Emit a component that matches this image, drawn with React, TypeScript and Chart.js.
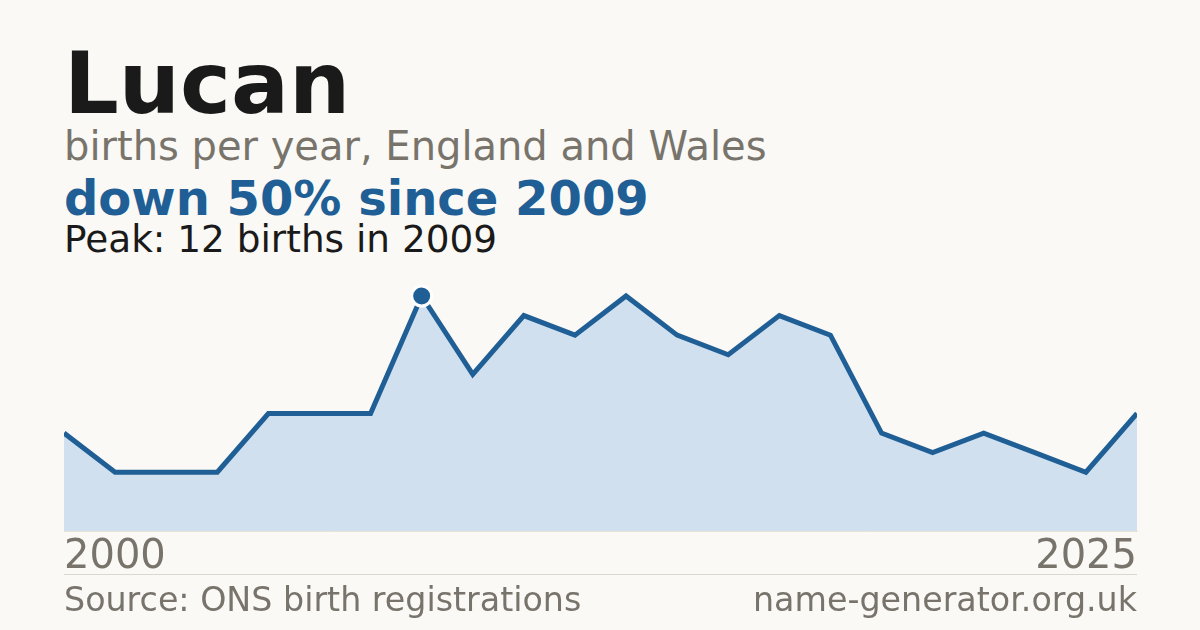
import React, { useEffect, useRef } from 'react';
import { Chart, registerables } from 'chart.js';

Chart.register(...registerables);

// births per year for the name
const years = ['2002', '2003', '2004', '2005', '2006', '2007', '2008', '2009', '2010', '2011', '2012',
  '2013', '2014', '2015', '2016', '2017', '2018', '2019', '2020', '2021', '2022', '2023'];
const births = [5, 3, 3, 3, 6, 6, 6, 12, 8, 11, 10, 12, 10, 9, 11, 10, 5, 4, 5, 4, 3, 6];
const axisLabels = ['2000', '2025'];
const peakIndex = 7;

const FONT = '"DejaVu Sans", Verdana, sans-serif';
const BLUE = '#1f5f96';
const GREY = '#78746c';

const text = (top: number, size: number, color: string, weight = 400): React.CSSProperties => ({
  position: 'absolute',
  left: 64,
  top,
  fontSize: size,
  lineHeight: 1,
  color,
  fontWeight: weight,
  whiteSpace: 'nowrap',
});

const App: React.FC = () => {
  const canvasRef = useRef<HTMLCanvasElement>(null);

  useEffect(() => {
    if (!canvasRef.current) return;
    const chart = new Chart(canvasRef.current, {
      type: 'line',
      data: {
        labels: years,
        datasets: [{
          data: births,
          borderColor: BLUE,
          borderWidth: 5,
          backgroundColor: '#d0e0ef',
          fill: 'origin',
          tension: 0,
          pointRadius: (c: any) => (c.dataIndex === peakIndex ? 10 : 0),
          pointHoverRadius: 0,
          pointBackgroundColor: BLUE,
          pointBorderColor: '#ffffff',
          pointBorderWidth: 3,
          clip: { left: 0, right: 0, top: 20, bottom: 0 } as any,
        }],
      },
      options: {
        animation: false,
        responsive: true,
        maintainAspectRatio: false,
        layout: { padding: { top: 12, left: 0, right: 0, bottom: 0 } },
        plugins: { legend: { display: false }, tooltip: { enabled: false } },
        scales: {
          x: {
            offset: false,
            grid: { display: false, drawTicks: false },
            border: { display: true, color: '#e8e2d8', width: 1 },
            ticks: {
              autoSkip: false,
              maxRotation: 0,
              align: 'inner',
              padding: 3,
              color: GREY,
              font: { family: FONT, size: 40 },
              callback: (_v: any, i: number) =>
                i === 0 ? axisLabels[0] : i === years.length - 1 ? axisLabels[1] : '',
            },
          },
          y: { display: false, min: 0, max: 12 },
        },
      },
    });
    return () => chart.destroy();
  }, []);

  return (
    <div style={{ position: 'fixed', left: 0, top: 0, width: 1200, height: 630, background: '#faf9f5', fontFamily: FONT, overflow: 'hidden' }}>
      <div style={text(40, 86, '#1a1a1a', 700)}>Lucan</div>
      <div style={text(126, 40, GREY)}>births per year, England and Wales</div>
      <div style={text(174, 48, BLUE, 700)}>down 50% since 2009</div>
      <div style={text(221, 37.4, '#1a1a1a')}>Peak: 12 births in 2009</div>
      <div style={{ position: 'absolute', left: 61, top: 284, width: 1079, height: 301 }}>
        <canvas ref={canvasRef} />
      </div>
      <div style={{ position: 'absolute', left: 64, top: 574, width: 1073, height: 1, background: '#dcd8cf' }} />
      <div style={text(583, 33.3, GREY)}>Source: ONS birth registrations</div>
      <div style={{ ...text(583, 33.3, GREY), left: 'auto', right: 63 }}>name-generator.org.uk</div>
    </div>
  );
};

export default App;
